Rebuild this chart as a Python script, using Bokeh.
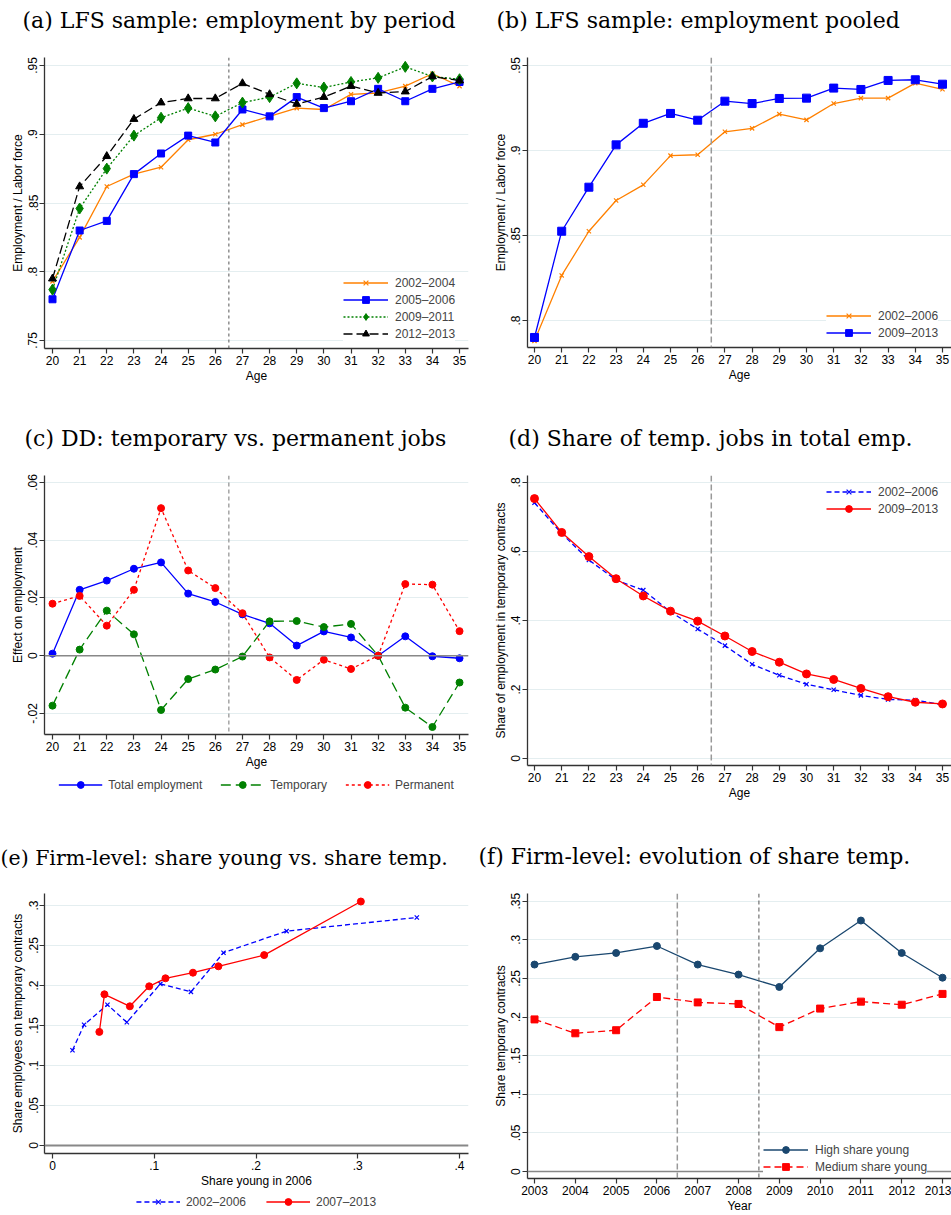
from bokeh.plotting import figure
from bokeh.models import Span, Legend, LegendItem, FixedTicker, CustomJSTickFormatter
from bokeh.layouts import column, row
from bokeh.embed import file_html
from bokeh.resources import INLINE

# ---- data ----
ages = [20, 21, 22, 23, 24, 25, 26, 27, 28, 29, 30, 31, 32, 33, 34, 35]

# (a) employment by period
emp_0204 = [.793, .825, .862, .871, .876, .896, .900, .907, .913, .919, .918, .929, .930, .935, .944, .935]
emp_0506 = [.780, .830, .837, .871, .886, .899, .894, .918, .913, .927, .919, .924, .933, .924, .933, .938]
emp_0911 = [.787, .846, .875, .899, .912, .919, .913, .923, .927, .937, .934, .938, .941, .949, .942, .940]
emp_1213 = [.795, .862, .884, .911, .923, .926, .926, .937, .929, .922, .927, .935, .930, .931, .942, .939]

# (b) employment pooled
pool_0206 = [.788, .8265, .8525, .8706, .8798, .897, .8975, .911, .913, .9214, .918, .9276, .9308, .9308, .9396, .936]
pool_0913 = [.790, .8525, .8784, .9033, .916, .9218, .9178, .929, .9276, .9306, .9308, .9367, .9359, .9412, .9416, .939]

# (c) DD estimates
dd_total = [.0007, .0228, .026, .0301, .0323, .0215, .0186, .0143, .0112, .0035, .0084, .0063, 0, .0067, -.0002, -.0009]
dd_temp = [-.0173, .0021, .0156, .0074, -.0188, -.0081, -.0048, -.0003, .0119, .012, .0099, .011, 0, -.018, -.0247, -.0093]
dd_perm = [.018, .0207, .0104, .0228, .0511, .0295, .0234, .0147, -.0006, -.0084, -.0014, -.0046, 0, .0248, .0246, .0085]

# (d) share of temporary jobs
temp_0206 = [.741, .652, .575, .517, .488, .425, .375, .327, .273, .241, .215, .199, .183, .171, .169, .156]
temp_0913 = [.753, .655, .585, .521, .471, .427, .398, .355, .310, .279, .245, .229, .203, .179, .163, .158]

# (e) firm level: share young vs share temp
young_0206 = [.0196, .031, .054, .073, .106, .136, .168, .230, .358]
stemp_0206 = [.119, .151, .176, .154, .202, .192, .241, .268, .285]
young_0713 = [.046, .051, .076, .095, .111, .138, .163, .208, .303]
stemp_0713 = [.142, .189, .174, .199, .209, .216, .224, .238, .305]

# (f) evolution of share temp
years = [2003, 2004, 2005, 2006, 2007, 2008, 2009, 2010, 2011, 2012, 2013]
high_young = [.268, .278, .283, .292, .268, .255, .239, .289, .325, .283, .251]
medium_young = [.197, .179, .183, .226, .219, .217, .187, .211, .220, .216, .230]

SANS = "Liberation Sans"
SERIF = "DejaVu Serif"
ORANGE = "#ff8000"
BLUE = "#0000ff"
GREEN = "#008000"
RED = "#ff0000"
NAVY = "#1a476f"

fmt = CustomJSTickFormatter(code="""
let s = parseFloat(tick.toFixed(3)).toString();
return s.replace(/^0\\./, '.').replace(/^-0\\./, '-.');
""")


def panel(title, frame, borders, xr, yr, xticks, yticks, xlabel, ylabel, title_dx, title_size="22px"):
    left, right, top, bottom = borders
    p = figure(frame_width=frame[0], frame_height=frame[1], x_range=xr, y_range=yr,
               output_backend="svg", toolbar_location=None,
               min_border_left=left, min_border_right=right,
               min_border_top=top, min_border_bottom=bottom)
    p.outline_line_color = None
    p.background_fill_color = "white"
    p.border_fill_color = "white"
    p.xgrid.visible = False
    p.ygrid.grid_line_color = "#e4eef0"
    p.ygrid.grid_line_width = 1.2
    for ax in (p.xaxis[0], p.yaxis[0]):
        ax.formatter = fmt
        ax.axis_line_color = "#333333"
        ax.axis_line_width = 1.3
        ax.major_tick_line_color = "#333333"
        ax.major_tick_line_width = 1.2
        ax.major_tick_in = 0
        ax.major_tick_out = 5
        ax.minor_tick_line_color = None
        ax.major_label_text_font = SANS
        ax.major_label_text_font_size = "12px"
        ax.major_label_text_color = "black"
        ax.major_label_standoff = 2
        ax.axis_label_text_font = SANS
        ax.axis_label_text_font_size = "12px"
        ax.axis_label_text_font_style = "normal"
        ax.axis_label_text_color = "black"
        ax.axis_label_standoff = 1
    xt = FixedTicker(ticks=xticks)
    yt = FixedTicker(ticks=yticks)
    p.xaxis.ticker = xt
    p.yaxis.ticker = yt
    p.ygrid.ticker = yt
    p.yaxis.major_label_orientation = "vertical"
    p.xaxis.axis_label = xlabel
    p.yaxis.axis_label = ylabel
    # second (blank) title line keeps the gap between the caption and the plot
    p.title.text = title + "\n\u00a0"
    p.title.text_font = SERIF
    p.title.text_font_size = title_size
    p.title.text_font_style = "normal"
    p.title.text_color = "black"
    p.title.align = "left"
    p.title.offset = title_dx
    p.title.standoff = 0
    return p


def style_legend(lg, loc):
    lg.location = loc
    lg.border_line_color = None
    lg.background_fill_color = "white"
    lg.background_fill_alpha = 1
    lg.label_text_font = SANS
    lg.label_text_font_size = "12px"
    lg.label_height = 17
    lg.glyph_height = 17
    lg.glyph_width = 45
    lg.label_standoff = 7
    lg.spacing = 0
    lg.margin = 0
    lg.padding = 0


def legend_strip(height, entries, spacing):
    # a thin plot under a panel that only carries its horizontal legend;
    # the series are drawn outside its (empty) ranges, only the key shows
    p = figure(width=475, height=height, x_range=(-2, -1), y_range=(-2, -1),
               x_axis_location=None, y_axis_location=None, output_backend="svg",
               toolbar_location=None, min_border_left=44, min_border_right=7,
               min_border_top=0, min_border_bottom=0)
    p.outline_line_color = None
    p.grid.visible = False
    items = []
    for label, xs, ys, color, dash, marker, size in entries:
        ln = p.line(xs, ys, color=color, line_width=1.3, line_dash=dash)
        if marker == "x":
            mk = p.scatter(xs, ys, marker="x", size=size, line_color=color, line_width=1.2)
        else:
            mk = p.scatter(xs, ys, marker=marker, size=size, color=color)
        items.append(LegendItem(label=label, renderers=[ln, mk]))
    lg = Legend(items=items, orientation="horizontal")
    style_legend(lg, "top_center")
    lg.margin = 2
    lg.spacing = spacing
    lg.glyph_width = 44
    lg.label_standoff = 6
    p.add_layout(lg)
    return p


# (a)
pa = panel("(a) LFS sample: employment by period", (424, 291), (44, 7, 57, 70),
           (19.705, 35.33), (0.7442, 0.9558), ages, [.75, .8, .85, .9, .95],
           "Age", "Employment / Labor force", -22)
pa.add_layout(Span(location=26.5, dimension="height", line_color="#555555",
                   line_dash="3 3", line_width=1))
pa.line(ages, emp_0204, color=ORANGE, line_width=1.3, legend_label="2002\u20132004")
pa.scatter(ages, emp_0204, marker="x", size=6, line_color=ORANGE, line_width=1.2, legend_label="2002\u20132004")
pa.line(ages, emp_0506, color=BLUE, line_width=1.3, legend_label="2005\u20132006")
pa.scatter(ages, emp_0506, marker="square", size=7, color=BLUE, legend_label="2005\u20132006")
pa.line(ages, emp_0911, color=GREEN, line_width=1.3, line_dash="2 2", legend_label="2009\u20132011")
pa.scatter(ages, emp_0911, marker="diamond", size=11, color=GREEN, legend_label="2009\u20132011")
pa.line(ages, emp_1213, color="black", line_width=1.3, line_dash="9 4", legend_label="2012\u20132013")
pa.scatter(ages, emp_1213, marker="triangle", size=8, color="black", legend_label="2012\u20132013")
style_legend(pa.legend[0], (299, 6))

# (b)
pb = panel("(b) LFS sample: employment pooled", (424, 290), (52, 0, 57, 71),
           (19.743, 35.331), (0.7841, 0.9547), ages, [.8, .85, .9, .95],
           "Age", "Employment / Labor force", -31)
pb.add_layout(Span(location=26.5, dimension="height", line_color="#999999",
                   line_dash="6 3", line_width=1.5))
pb.line(ages, pool_0206, color=ORANGE, line_width=1.3, legend_label="2002\u20132006")
pb.scatter(ages, pool_0206, marker="x", size=6, line_color=ORANGE, line_width=1.2, legend_label="2002\u20132006")
pb.line(ages, pool_0913, color=BLUE, line_width=1.3, legend_label="2009\u20132013")
pb.scatter(ages, pool_0913, marker="square", size=8, color=BLUE, legend_label="2009\u20132013")
style_legend(pb.legend[0], (299, 6))

# (c)
pc = panel("(c) DD: temporary vs. permanent jobs", (424, 259), (44, 7, 57, 40),
           (19.705, 35.33), (-0.0273, 0.0624), ages, [-.02, 0, .02, .04, .06],
           "Age", "Effect on employment", -20)
pc.add_layout(Span(location=0, dimension="width", line_color="#888888", line_width=1.5))
pc.add_layout(Span(location=26.5, dimension="height", line_color="#777777",
                   line_dash="4 3", line_width=1))
pc.line(ages, dd_total, color=BLUE, line_width=1.3)
pc.scatter(ages, dd_total, marker="circle", size=7, color=BLUE)
pc.line(ages, dd_temp, color=GREEN, line_width=1.3, line_dash="10 5")
pc.scatter(ages, dd_temp, marker="circle", size=7, color=GREEN)
pc.line(ages, dd_perm, color=RED, line_width=1.3, line_dash="3 3")
pc.scatter(ages, dd_perm, marker="circle", size=7, color=RED)
lc = legend_strip(62, [("Total employment", ages, dd_total, BLUE, "solid", "circle", 7),
                       ("Temporary", ages, dd_temp, GREEN, "10 5", "circle", 7),
                       ("Permanent", ages, dd_perm, RED, "3 3", "circle", 7)], 18)

# (d)
pd_ = panel("(d) Share of temp. jobs in total emp.", (424, 290), (52, 0, 57, 71),
            (19.743, 35.331), (-0.0203, 0.82), ages, [0, .2, .4, .6, .8],
            "Age", "Share of employment in temporary contracts", -19)
pd_.add_layout(Span(location=26.5, dimension="height", line_color="#999999",
                    line_dash="6 3", line_width=1.5))
pd_.line(ages, temp_0206, color=BLUE, line_width=1.3, line_dash="5 3", legend_label="2002\u20132006")
pd_.scatter(ages, temp_0206, marker="x", size=6, line_color=BLUE, line_width=1.2, legend_label="2002\u20132006")
pd_.line(ages, temp_0913, color=RED, line_width=1.3, legend_label="2009\u20132013")
pd_.scatter(ages, temp_0913, marker="circle", size=8, color=RED, legend_label="2009\u20132013")
style_legend(pd_.legend[0], (299, 248))

# (e)
pe = panel("(e) Firm-level: share young vs. share temp.", (424, 260), (44, 7, 57, 38),
           (-0.0079, 0.4088), (-0.01, 0.315), [0, .1, .2, .3, .4],
           [0, .05, .1, .15, .2, .25, .3],
           "Share young in 2006", "Share employees on temporary contracts", -44, "20.5px")
pe.add_layout(Span(location=0, dimension="width", line_color="#888888", line_width=2))
pe.line(young_0206, stemp_0206, color=BLUE, line_width=1.3, line_dash="5 3")
pe.scatter(young_0206, stemp_0206, marker="x", size=6, line_color=BLUE, line_width=1.2)
pe.line(young_0713, stemp_0713, color=RED, line_width=1.3)
pe.scatter(young_0713, stemp_0713, marker="circle", size=7, color=RED)
le = legend_strip(22, [("2002\u20132006", young_0206, stemp_0206, BLUE, "5 3", "x", 6),
                       ("2007\u20132013", young_0713, stemp_0713, RED, "solid", "circle", 7)], 20)

# (f)
pf = panel("(f) Firm-level: evolution of share temp.", (424, 285), (52, 0, 57, 35),
           (2002.828, 2013.22), (-0.009, 0.36), years,
           [0, .05, .1, .15, .2, .25, .3, .35],
           "Year", "Share temporary contracts", -49)
pf.add_layout(Span(location=0, dimension="width", line_color="#888888", line_width=1.5))
pf.add_layout(Span(location=2006.5, dimension="height", line_color="#999999",
                   line_dash="6 3", line_width=1.5))
pf.add_layout(Span(location=2008.5, dimension="height", line_color="#555555",
                   line_dash="4 3", line_width=1))
pf.line(years, high_young, color=NAVY, line_width=1.3, legend_label="High share young")
pf.scatter(years, high_young, marker="circle", size=7, color=NAVY, legend_label="High share young")
pf.line(years, medium_young, color=RED, line_width=1.3, line_dash="7 4", legend_label="Medium share young")
pf.scatter(years, medium_young, marker="square", size=7, color=RED, legend_label="Medium share young")
style_legend(pf.legend[0], (236, 3))

page = column(row(pa, pb), row(column(pc, lc), pd_), row(column(pe, le), pf))
open("out.html", "w").write(file_html(page, INLINE))
